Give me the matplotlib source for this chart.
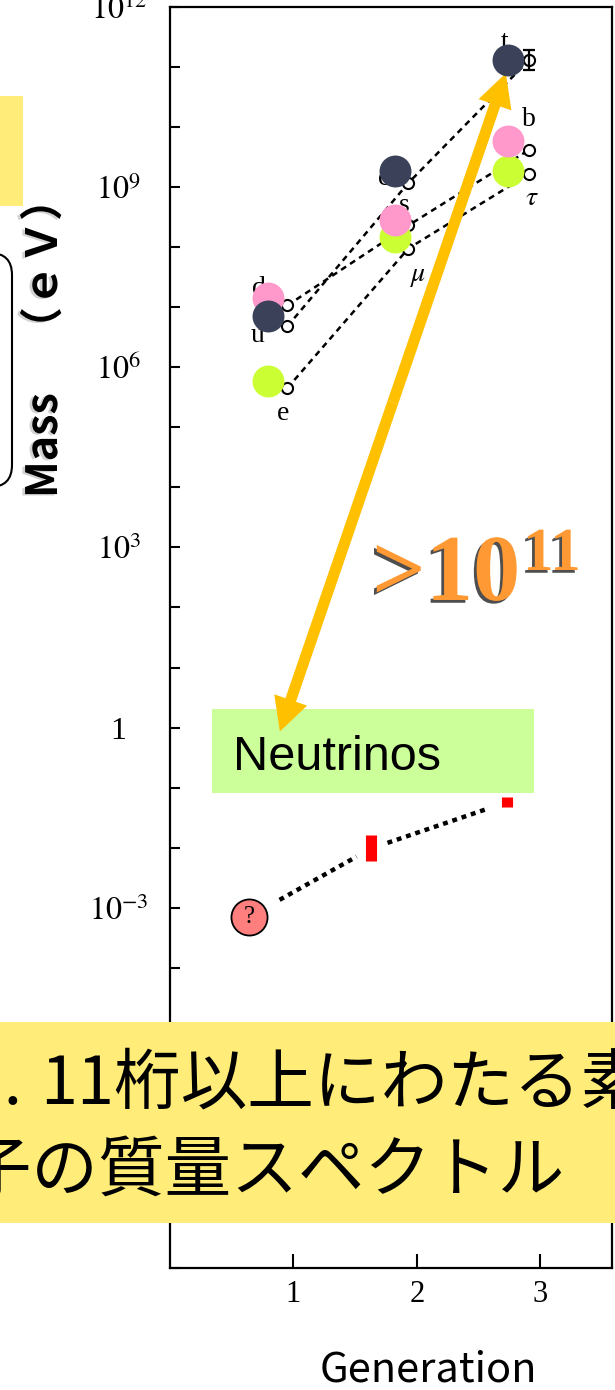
import matplotlib
matplotlib.use('Agg')
import matplotlib.pyplot as plt
import matplotlib.patheffects as pe
from matplotlib.patches import Rectangle, FancyBboxPatch, FancyArrowPatch
import numpy as np

plt.rcParams['mathtext.fontset'] = 'stix'
plt.rcParams['font.family'] = ['Liberation Serif', 'DejaVu Serif']
JP = ['Noto Sans CJK JP', 'DejaVu Sans']

W, H = 615, 1390

# charged fermions from the scanned figure (open circles), masses in eV
gen_x = [0.95, 1.93, 2.91]
up_names = ['u', 'c', 't']
up_mass = [4.8e6, 1.17e9, 1.32e11]
down_names = ['d', 's', 'b']
down_mass = [1.07e7, 2.3e8, 4.2e9]
lep_names = ['e', r'$\mu$', r'$\tau$']
lep_mass = [4.5e5, 9.5e7, 1.66e9]
top_err = [0.9e11, 1.95e11]

# coloured overlay circles
col_x = [0.79, 1.825, 2.74]
col_up = [7.1e6, 1.85e9, 1.32e11]
col_down = [1.4e7, 2.8e8, 5.9e9]
col_lep = [6.0e5, 1.5e8, 1.85e9]

# neutrinos: unknown lightest mass, ranges for the other two
nu_x = [0.64, 1.63, 2.73]
nu1 = 7e-4
nu_lo = [5.9e-3, 4.7e-2]
nu_hi = [1.6e-2, 7.0e-2]

# label offsets (px) from the open circles
lab_off = {'u': (-30, -9), 'c': (-24, 5), 't': (-25, 17),
           'd': (-28, 17), 's': (-4, 20), 'b': (0, 30),
           'e': (-4, -25), r'$\mu$': (10, -28), r'$\tau$': (3, -25)}

DARK = '#3A4159'
PINK = '#FF99CC'
LIME = '#CCFF33'


def fx(px):
    return px / 100.0


def fy(py):
    return (H - py) / 100.0


fig = plt.figure(figsize=(W / 100, H / 100), dpi=100)
fig.patch.set_facecolor('white')
ax = fig.add_axes([170 / W, 122 / H, (612 - 170) / W, (1268 - 7) / H])
ax.set_yscale('log')
ax.set_ylim(1e-9, 1e12)
ax.set_xlim(0, 3.58)

dec = list(range(-9, 13))
ax.set_yticks([10.0 ** k for k in dec])
ylabels = []
for k in dec:
    if k % 3 or k < -3:
        ylabels.append('')
    elif k == 0:
        ylabels.append('1')
    else:
        ylabels.append(r'$10^{%d}$' % k)
ax.set_yticklabels(ylabels)
ax.yaxis.set_minor_locator(matplotlib.ticker.NullLocator())
ax.tick_params(axis='y', direction='in', length=7, width=1.5, pad=37,
               labelsize=23)
for lbl in ax.get_yticklabels():
    lbl.set_ha('center')
ax.set_xticks([1, 2, 3])
ax.set_xticklabels(['1', '2', '3'])
ax.tick_params(axis='x', direction='in', length=10, width=1.5, pad=9,
               labelsize=22)
for sp in ax.spines.values():
    sp.set_linewidth(1.6)

# dashed family lines through the open circles
dash = (0, (2.4, 1.9))
for names, mass in [(up_names, up_mass), (down_names, down_mass),
                    (lep_names, lep_mass)]:
    ax.plot(gen_x, mass, ls=dash, color='k', lw=1.8, marker='o', ms=8,
            mfc='white', mec='k', mew=1.5, zorder=2)
    for n, x, m in zip(names, gen_x, mass):
        dx, dy = lab_off[n]
        ax.annotate(n, (x, m), xytext=(dx * 0.72, dy * 0.72),
                    textcoords='offset points', ha='center', va='center',
                    fontsize=20, zorder=2)
ax.errorbar([gen_x[2]], [up_mass[2]],
            yerr=[[up_mass[2] - top_err[0]], [top_err[1] - up_mass[2]]],
            fmt='none', ecolor='k', elinewidth=1.6, capsize=4.5, capthick=1.6,
            zorder=2)

# coloured circles
for vals, c in [(col_lep, LIME), (col_down, PINK), (col_up, DARK)]:
    ax.plot(col_x, vals, 'o', ms=23, color=c, mec='none', zorder=5)

# neutrino masses
nu_mid = [nu1] + [np.sqrt(a * b) for a, b in zip(nu_lo, nu_hi)]
gaps = [(0.25, 0.88), (0.12, 0.86)]
for i, (t0, t1) in enumerate(gaps):
    x0, x1 = nu_x[i], nu_x[i + 1]
    l0, l1 = np.log10(nu_mid[i]), np.log10(nu_mid[i + 1])
    ax.plot([x0 + t0 * (x1 - x0), x0 + t1 * (x1 - x0)],
            [10 ** (l0 + t0 * (l1 - l0)), 10 ** (l0 + t1 * (l1 - l0))],
            color='k', lw=3.2, ls=(0, (1.1, 1.1)), zorder=3)
ax.vlines(nu_x[1:], nu_lo, nu_hi, color='#FF0000', lw=8, zorder=4)
ax.plot([nu_x[0]], [nu1], 'o', ms=26, mfc='#FF7F7F', mec='k', mew=1.3,
        zorder=4)
ax.text(nu_x[0], nu1, '?', ha='center', va='center', fontsize=18, zorder=5)

# neutrino box
ax.add_patch(Rectangle((fx(212), fy(793)), fx(534 - 212), (793 - 709) / 100,
                       transform=fig.dpi_scale_trans, fc='#CCFF99', ec='none',
                       clip_on=False, zorder=3))
ax.text(fx(233), fy(757), 'Neutrinos', transform=fig.dpi_scale_trans,
        ha='left', va='center', fontsize=35, family=['Liberation Sans'],
        zorder=3.5)

# double arrow spanning the mass range
tip_hi = (2.72, 7.9e10)
tip_lo = (0.89, 0.86)
mid = ((tip_hi[0] + tip_lo[0]) / 2, np.sqrt(tip_hi[1] * tip_lo[1]))
for tip in (tip_hi, tip_lo):
    ax.add_patch(FancyArrowPatch(mid, tip,
                                 arrowstyle='simple,head_length=24,head_width=25,tail_width=8',
                                 mutation_scale=1, shrinkA=0, shrinkB=0,
                                 fc='#FFC000', ec='none', lw=0, zorder=4.5))

shadow = [pe.withSimplePatchShadow(offset=(-2, -2), shadow_rgbFace='#222222',
                                   alpha=0.8)]
ax.text(fx(372), fy(600), '>10', transform=fig.dpi_scale_trans, ha='left',
        va='baseline', fontsize=68, fontweight='bold', color='#FF9933',
        path_effects=shadow, zorder=6)
ax.text(fx(523), fy(570), '11', transform=fig.dpi_scale_trans, ha='left',
        va='baseline', fontsize=44, fontweight='bold', color='#FF9933',
        path_effects=shadow, zorder=6)

# y label and its bracket
fig.add_artist(FancyBboxPatch((fx(-80), fy(487)), fx(92), (487 - 253) / 100,
                              boxstyle='round,pad=0,rounding_size=0.22',
                              transform=fig.dpi_scale_trans, fc='none',
                              ec='k', lw=1.5))
fig.add_artist(Rectangle((0, fy(206)), fx(23), (206 - 96) / 100,
                         transform=fig.dpi_scale_trans, fc='#FFEC79',
                         ec='none'))
fig.text(fx(44), fy(338), 'Mass\u3000\uff08\uff45\uff36\uff09',
         transform=fig.dpi_scale_trans, rotation=90, ha='center',
         va='center', fontsize=31, fontweight='bold', family=JP,
         path_effects=[pe.withSimplePatchShadow(offset=(-2, -1),
                                                shadow_rgbFace='gray',
                                                alpha=0.35)])
fig.text(fx(428), fy(1370), 'Generation', transform=fig.dpi_scale_trans,
         ha='center', va='center', fontsize=30, family=JP)

# caption banner
fig.add_artist(Rectangle((0, fy(1223)), W / 100, (1223 - 1022) / 100,
                         transform=fig.dpi_scale_trans, fc='#FFEC79',
                         ec='none'))
fig.text(fx(40), fy(1085), '11桁以上にわたる素', transform=fig.dpi_scale_trans,
         ha='left', va='center', fontsize=48, family=JP)
fig.text(fx(22), fy(1085), '図1.', transform=fig.dpi_scale_trans,
         ha='right', va='center', fontsize=48, family=JP)
fig.text(fx(33 - 134), fy(1172), '粒子の質量スペクトル',
         transform=fig.dpi_scale_trans, ha='left', va='center', fontsize=48,
         family=JP)

fig.savefig('out.png', dpi=100)
